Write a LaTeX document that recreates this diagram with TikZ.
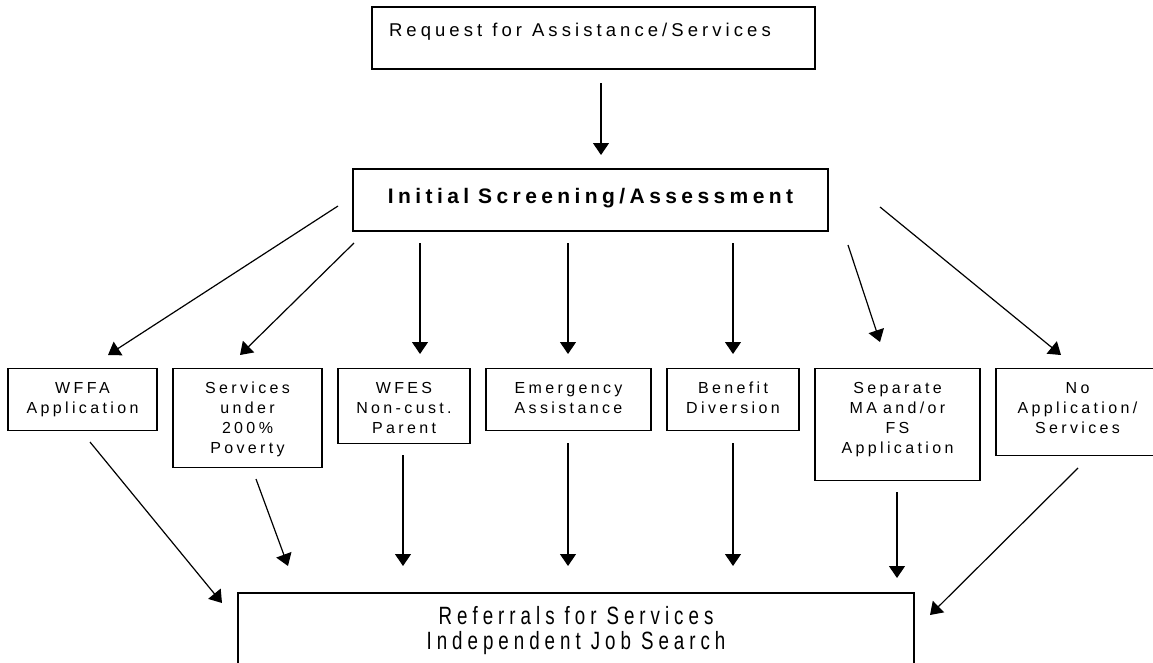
\documentclass[tikz,border=0pt]{standalone}
\usepackage{fontspec}
\setmainfont{Liberation Sans}
\newfontfamily\boxfont[LetterSpace=21]{Liberation Sans}
\newfontfamily\topfont[LetterSpace=22]{Liberation Sans}
\newfontfamily\initfont[LetterSpace=21]{Liberation Sans}
\newfontfamily\bottomfont[LetterSpace=20,FakeStretch=0.75]{Liberation Sans}
\newcommand\boxfnt{\boxfont\fontsize{16}{20}\selectfont}
\newcommand\topfnt{\topfont\fontsize{18.5}{22}\selectfont}
\newcommand\initfnt{\initfont\bfseries\fontsize{21}{24}\selectfont}
\newcommand\botfnt{\bottomfont\fontsize{25}{25}\selectfont}
\newcommand\gap[1]{\hspace*{#1}}
\usetikzlibrary{arrows.meta}
\tikzset{
  box/.style={draw, line width=1.2pt, inner sep=0pt, align=center, font=\boxfnt},
  mbox/.style n args={2}{box, anchor=north, inner ysep=0pt, text height=#1, text depth=#2},
  arr/.style={-{Triangle[length=12pt,width=16pt]}, line width=1.2pt},
}
\begin{document}
\begin{tikzpicture}[x=1pt,y=-1pt]
\useasboundingbox (0,0) rectangle (1153,662);
\clip (0,0) rectangle (1153,662);
% top box
\node[box, minimum width=443pt, minimum height=62pt, text width=409pt,
  inner xsep=17pt, inner ysep=16.5pt, text height=13pt, text depth=16pt,
  align=left, font=\topfnt]
  (req) at (593.5,38) {Request\gap{10pt}for\gap{10pt}Assistance/Services};
% screening box
\node[box, minimum width=475pt, minimum height=62pt, text height=15pt, text depth=8pt,
  font=\initfnt]
  (init) at (590.5,200) {Initial\gap{9pt}Screening/Assessment};
% middle boxes (top edge at y=368)
\node[mbox={45pt}{17pt}, minimum width=149pt, minimum height=62pt]  (wffa) at (82.5,368)  {WFFA\\Application};
\node[mbox={85pt}{14pt}, minimum width=149pt, minimum height=99pt]  (serv) at (247.5,368) {Services\\under\\200\%\\Poverty};
\node[mbox={65pt}{10pt}, minimum width=132pt, minimum height=75pt]  (wfes) at (404,368)   {WFES\\Non-cust.\\Parent};
\node[mbox={45pt}{17pt}, minimum width=165pt, minimum height=62pt]  (emer) at (568.5,368) {Emergency\\Assistance};
\node[mbox={45pt}{17pt}, minimum width=132pt, minimum height=62pt]  (bene) at (733,368)   {Benefit\\Diversion};
\node[mbox={85pt}{27pt}, minimum width=165pt, minimum height=112pt] (sepa) at (897.5,368) {Separate\\MA\gap{6pt}and/or\\FS\\Application};
\node[mbox={65pt}{22pt}, minimum width=163pt, minimum height=87pt]  (noap) at (1077.5,368) {No\\Application/\\Services};
% bottom box
\node[box, minimum width=676pt, minimum height=76pt, font=\botfnt]
  (refs) at (576,631) {Referrals\gap{10pt}for\gap{10pt}Services\\Independent\gap{10pt}Job\gap{10pt}Search};
% connector ends
\coordinate (r1) at (601,83);   \coordinate (r2) at (601,155);
\coordinate (a1) at (338,206);  \coordinate (b1) at (108,355);
\coordinate (a2) at (354,243);  \coordinate (b2) at (240,355);
\coordinate (a3) at (420,243);  \coordinate (b3) at (420,354);
\coordinate (a4) at (568,243);  \coordinate (b4) at (568,354);
\coordinate (a5) at (733,243);  \coordinate (b5) at (733,354);
\coordinate (a6) at (848,245);  \coordinate (b6) at (880,342);
\coordinate (a7) at (880,207);  \coordinate (b7) at (1061,355);
\coordinate (c1) at (90,442);   \coordinate (d1) at (222,603);
\coordinate (c2) at (256,479);  \coordinate (d2) at (288,566);
\coordinate (c3) at (403,455);  \coordinate (d3) at (403,566);
\coordinate (c4) at (568,443);  \coordinate (d4) at (568,566);
\coordinate (c5) at (733,443);  \coordinate (d5) at (733,566);
\coordinate (c6) at (897,492);  \coordinate (d6) at (897,578);
\coordinate (c7) at (1078,468); \coordinate (d7) at (930,615);
\draw[arr] (r1) -- (r2);
\foreach \i in {1,...,7} {
  \draw[arr] (a\i) -- (b\i);
  \draw[arr] (c\i) -- (d\i);
}
\end{tikzpicture}
\end{document}
